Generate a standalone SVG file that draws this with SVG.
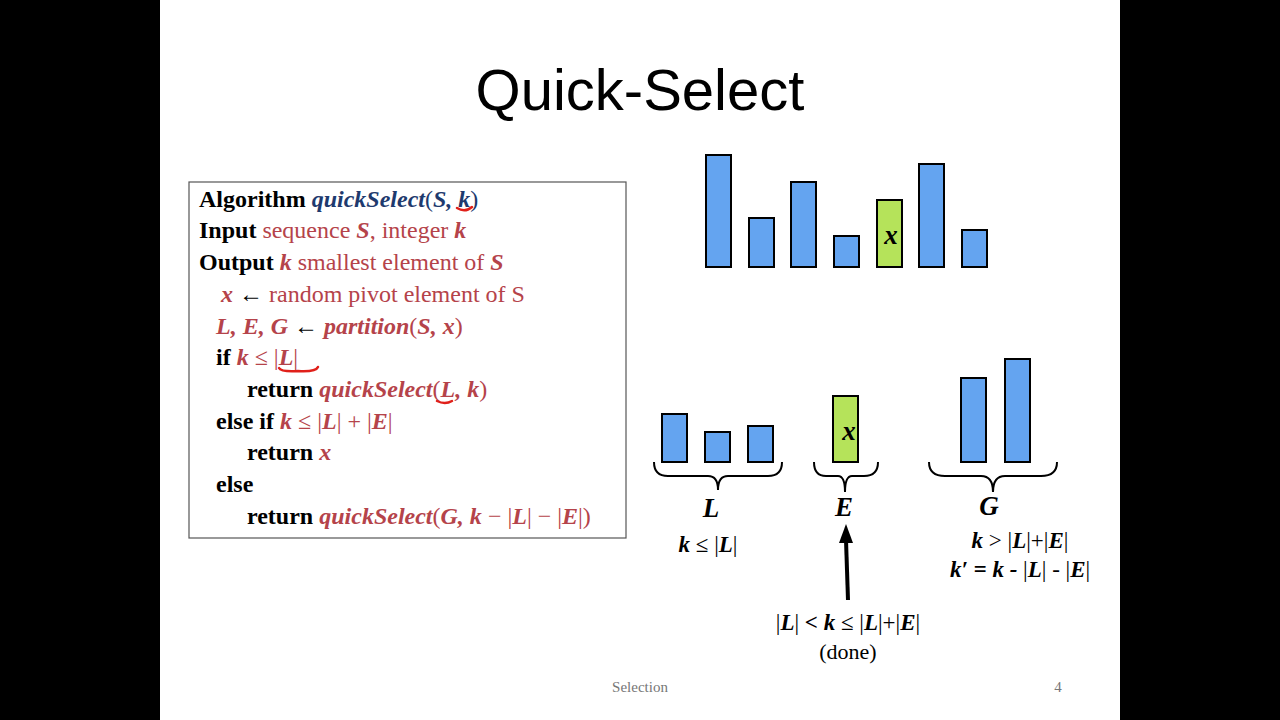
<svg xmlns="http://www.w3.org/2000/svg" width="1280" height="720" viewBox="0 0 1280 720">
<defs>
<style>
.t{font-family:"Liberation Serif",serif;font-size:24px}
.b{font-weight:bold}
.i{font-style:italic;font-weight:bold}
.r{fill:#b5434a}
.n{fill:#1e3a6e}
.bar{fill:#64a4f0;stroke:#000;stroke-width:2}
.gx{fill:#b5e35a;stroke:#000;stroke-width:2}
.br{fill:none;stroke:#000;stroke-width:2}
.lab{font-family:"Liberation Serif",serif;font-size:23px;font-weight:bold;font-style:italic}
.big{font-size:27px}
.ann{fill:none;stroke:#e0201a;stroke-width:2.5;stroke-linecap:round}
</style>
</defs>
<rect width="1280" height="720" fill="#000"/>
<rect x="160" y="0" width="960" height="720" fill="#fff"/>
<text x="640" y="110" text-anchor="middle" font-family="Liberation Sans,sans-serif" font-size="58">Quick-Select</text>
<g id="algo">
<rect x="189" y="182" width="437" height="356" fill="#fff" stroke="#555" stroke-width="1.2"/>
<text class="t" y="207"><tspan x="199" class="b">Algorithm </tspan><tspan class="i n">quickSelect</tspan><tspan class="n">(</tspan><tspan class="i n">S, k</tspan><tspan class="n">)</tspan></text>
<text class="t" y="238"><tspan x="199" class="b">Input </tspan><tspan class="r">sequence </tspan><tspan class="i r">S</tspan><tspan class="r">, integer </tspan><tspan class="i r">k</tspan></text>
<text class="t" y="270"><tspan x="199" class="b">Output </tspan><tspan class="i r">k</tspan><tspan class="r"> smallest element of </tspan><tspan class="i r">S</tspan></text>
<text class="t r" y="302"><tspan x="221" class="i">x</tspan><tspan fill="#000"> ← </tspan><tspan>random pivot element of S</tspan></text>
<text class="t r" y="334"><tspan x="216" class="i">L, E, G</tspan><tspan fill="#000"> ← </tspan><tspan class="i">partition</tspan><tspan>(</tspan><tspan class="i">S, x</tspan><tspan>)</tspan></text>
<text class="t" y="365"><tspan x="216" class="b">if </tspan><tspan class="i r">k</tspan><tspan class="r"> ≤ |</tspan><tspan class="i r">L</tspan><tspan class="r">|</tspan></text>
<text class="t" y="397"><tspan x="247" class="b">return </tspan><tspan class="i r">quickSelect</tspan><tspan class="r">(</tspan><tspan class="i r">L, k</tspan><tspan class="r">)</tspan></text>
<text class="t" y="429"><tspan x="216" class="b">else if </tspan><tspan class="i r">k</tspan><tspan class="r"> ≤ |</tspan><tspan class="i r">L</tspan><tspan class="r">| + |</tspan><tspan class="i r">E</tspan><tspan class="r">|</tspan></text>
<text class="t" y="460"><tspan x="247" class="b">return </tspan><tspan class="i r">x</tspan></text>
<text class="t b" x="216" y="492">else</text>
<text class="t" y="524"><tspan x="247" class="b">return </tspan><tspan class="i r">quickSelect</tspan><tspan class="r">(</tspan><tspan class="i r">G, k</tspan><tspan class="r"> − |</tspan><tspan class="i r">L</tspan><tspan class="r">| − |</tspan><tspan class="i r">E</tspan><tspan class="r">|)</tspan></text>
<path class="ann" d="M457,208 Q465,213 472,207"/>
<path class="ann" d="M279,368 Q281,372 298,371 Q316,372 318,367"/>
<path class="ann" d="M437,401 Q445,405 452,401"/>
</g>
<g id="top-bars">
<rect class="bar" x="706" y="155" width="25" height="112"/>
<rect class="bar" x="749" y="218" width="25" height="49"/>
<rect class="bar" x="791" y="182" width="25" height="85"/>
<rect class="bar" x="834" y="236" width="25" height="31"/>
<rect class="gx" x="877" y="200" width="25" height="67"/>
<text class="lab big" x="891" y="244" text-anchor="middle">x</text>
<rect class="bar" x="919" y="164" width="25" height="103"/>
<rect class="bar" x="962" y="230" width="25" height="37"/>
</g>
<g id="L">
<rect class="bar" x="662" y="414" width="25" height="48"/>
<rect class="bar" x="705" y="432" width="25" height="30"/>
<rect class="bar" x="748" y="426" width="25" height="36"/>
<path class="br" d="M654,462 Q654,476 668,476 L708,476 Q718,476 718,490 Q718,476 728,476 L768,476 Q782,476 782,462"/>
<text class="lab big" x="711" y="517" text-anchor="middle">L</text>
<text class="lab" x="708" y="552" text-anchor="middle">k <tspan font-style="normal" font-weight="normal">≤ |</tspan>L<tspan font-style="normal" font-weight="normal">|</tspan></text>
</g>
<g id="E">
<rect class="gx" x="833" y="396" width="25" height="66"/>
<text class="lab big" x="849" y="440" text-anchor="middle">x</text>
<path class="br" d="M814,462 Q814,476 826,476 L838,476 Q845,476 845,492 Q845,476 852,476 L864,476 Q878,476 878,462"/>
<text class="lab big" x="844" y="516" text-anchor="middle">E</text>
</g>
<g id="G">
<rect class="bar" x="961" y="378" width="25" height="84"/>
<rect class="bar" x="1005" y="359" width="25" height="103"/>
<path class="br" d="M929,462 Q929,476 945,476 L981,476 Q993,476 993,492 Q993,476 1005,476 L1041,476 Q1057,476 1057,462"/>
<text class="lab big" x="989" y="515" text-anchor="middle">G</text>
<text class="lab" x="1020" y="548" text-anchor="middle">k <tspan font-style="normal" font-weight="normal">&gt; |</tspan>L<tspan font-style="normal" font-weight="normal">|+|</tspan>E<tspan font-style="normal" font-weight="normal">|</tspan></text>
<text class="lab" x="1020" y="577" text-anchor="middle">k′ = k - <tspan font-style="normal" font-weight="normal">|</tspan>L<tspan font-style="normal" font-weight="normal">| - |</tspan>E<tspan font-style="normal" font-weight="normal">|</tspan></text>
</g>
<g id="connectors">
<line x1="848" y1="600" x2="846" y2="540" stroke="#000" stroke-width="4"/>
<polygon points="846,524 839,543 853,543" fill="#000"/>
</g>
<g id="done">
<text class="lab" x="848" y="630" text-anchor="middle"><tspan font-style="normal" font-weight="normal">|</tspan>L<tspan font-style="normal" font-weight="normal">|</tspan> &lt; k <tspan font-style="normal" font-weight="normal">≤ |</tspan>L<tspan font-style="normal" font-weight="normal">|+|</tspan>E<tspan font-style="normal" font-weight="normal">|</tspan></text>
<text x="848" y="659" text-anchor="middle" font-family="Liberation Serif,serif" font-size="22">(done)</text>
</g>
<text x="640" y="692" text-anchor="middle" font-family="Liberation Serif,serif" font-size="15" fill="#777">Selection</text>
<text x="1058" y="692" text-anchor="middle" font-family="Liberation Serif,serif" font-size="15" fill="#777">4</text>
</svg>
